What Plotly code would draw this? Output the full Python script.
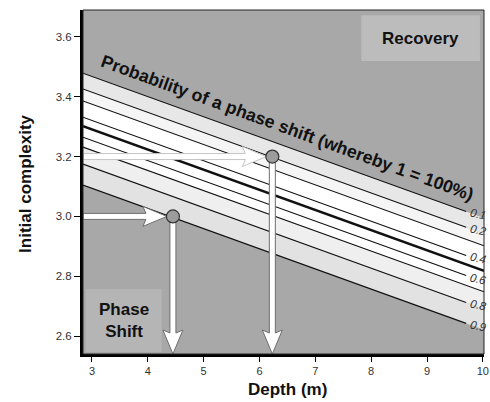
import plotly.graph_objects as go

# probability contour lines: complexity at 3 m depth, common slope per metre
levels = [0.1, 0.2, 0.3, 0.4, 0.5, 0.6, 0.7, 0.8, 0.9]
complexity_at_3m = [3.468, 3.415, 3.375, 3.321, 3.291, 3.254, 3.221, 3.164, 3.094]
slope = -0.0674
labelled = [0.1, 0.2, 0.4, 0.6, 0.8, 0.9]

# example readings
point_depth = [4.45, 6.23]
point_complexity = [3.0, 3.2]

depth_ticks = [3, 4, 5, 6, 7, 8, 9, 10]
complexity_ticks = [2.6, 2.8, 3.0, 3.2, 3.4, 3.6]

x_range = [2.84, 10.02]
y_range = [2.54, 3.69]

W, H = 490, 402
M = dict(l=83, r=6, t=10, b=48)
kx = (x_range[1] - x_range[0]) / (W - M["l"] - M["r"])   # data per pixel
ky = (y_range[1] - y_range[0]) / (H - M["t"] - M["b"])

FONT = "Liberation Sans, Arial, sans-serif"


def line_y(i, x):
    return complexity_at_3m[i] + slope * (x - 3)


fig = go.Figure()

# band fills between neighbouring contours
band_colors = ["#e7e7e7", "#f5f5f5", "#ffffff", "#ffffff",
               "#ffffff", "#ffffff", "#efefef", "#e2e2e2"]
x0, x1 = x_range
for i in range(len(levels) - 1):
    xs = [x0, x1, x1, x0, x0]
    ys = [line_y(i, x0), line_y(i, x1), line_y(i + 1, x1), line_y(i + 1, x0), line_y(i, x0)]
    fig.add_trace(go.Scatter(x=xs, y=ys, mode="lines", fill="toself",
                             fillcolor=band_colors[i], line=dict(width=0),
                             hoverinfo="skip", showlegend=False))

# contour lines
line_end = 9.70
for i, lv in enumerate(levels):
    xe = line_end if lv in labelled else x1
    width = 2.6 if lv == 0.5 else 1.1
    fig.add_trace(go.Scatter(x=[x0, xe], y=[line_y(i, x0), line_y(i, xe)], mode="lines",
                             line=dict(color="#111111", width=width),
                             hoverinfo="skip", showlegend=False))


def arrow(tip_x, tip_y, start, direction, outline):
    hw, HW, hl = 3, 10, 21
    if direction == "right":
        xs = [start, tip_x - hl * kx, tip_x - (hl + 3) * kx, tip_x,
              tip_x - (hl + 3) * kx, tip_x - hl * kx, start, start]
        ys = [tip_y + hw * ky, tip_y + hw * ky, tip_y + HW * ky, tip_y,
              tip_y - HW * ky, tip_y - hw * ky, tip_y - hw * ky, tip_y + hw * ky]
    else:
        ys = [start, tip_y + hl * ky, tip_y + (hl + 3) * ky, tip_y,
              tip_y + (hl + 3) * ky, tip_y + hl * ky, start, start]
        xs = [tip_x - hw * kx, tip_x - hw * kx, tip_x - HW * kx, tip_x,
              tip_x + HW * kx, tip_x + hw * kx, tip_x + hw * kx, tip_x - hw * kx]
    fig.add_trace(go.Scatter(x=xs, y=ys, mode="lines", fill="toself", fillcolor="white",
                             line=dict(color=outline, width=1),
                             hoverinfo="skip", showlegend=False))


outlines = ["#6e6e6e", "#c4c4c4"]
for px, py, oc in zip(point_depth, point_complexity, outlines):
    arrow(px - 6 * kx, py, x0, "right", oc)
    arrow(px, y_range[0], py, "down", "#6e6e6e")

fig.add_trace(go.Scatter(x=point_depth, y=point_complexity, mode="markers",
                         marker=dict(size=13, color="#9c9c9c",
                                     line=dict(color="#333333", width=1.2)),
                         hoverinfo="skip", showlegend=False))

annotations = []
for i, lv in enumerate(levels):
    if lv in labelled:
        annotations.append(dict(x=line_end, y=line_y(i, line_end), xref="x", yref="y",
                                text=f"<i>{lv}</i>", showarrow=False, xanchor="left",
                                yanchor="middle", xshift=0, yshift=-3, textangle=12,
                                font=dict(family=FONT, size=11.5, color="#333333")))


def label(x, y, text, angle=0, **kw):
    annotations.append(dict(x=x, y=y, text=text, showarrow=False, textangle=angle,
                            xanchor="center", yanchor="middle",
                            font=dict(family=FONT, size=17, color="#111111", weight="bold"),
                            **kw))


label(6.5, line_y(0, 6.5), "Probability of a phase shift (whereby 1 = 100%)", 20,
      xref="x", yref="y", yshift=19)
annotations[-1]["font"]["size"] = 17.7
label(0.842, 0.918, "Recovery", xref="paper", yref="paper")
label(0.102, 0.098, "Phase<br>Shift", xref="paper", yref="paper")
label(-0.145, 0.494, "Initial complexity", -90, xref="paper", yref="paper")
label(0.51, -0.102, "Depth (m)", xref="paper", yref="paper")

shapes = [
    dict(type="rect", xref="paper", yref="paper", x0=0.694, x1=0.990, y0=0.852, y1=0.985,
         fillcolor="#bcbcbc", line=dict(width=0), layer="below"),
    dict(type="rect", xref="paper", yref="paper", x0=0.007, x1=0.196, y0=0.006, y1=0.189,
         fillcolor="#b5b5b5", line=dict(width=0), layer="below"),
    dict(type="rect", xref="paper", yref="paper", x0=0, x1=1, y0=0, y1=1,
         line=dict(color="#222222", width=1), layer="above"),
]

fig.update_layout(
    width=W, height=H, margin=M,
    paper_bgcolor="white", plot_bgcolor="#a8a8a8",
    annotations=annotations, shapes=shapes,
    xaxis=dict(range=x_range, tickvals=depth_ticks, showgrid=False, zeroline=False,
               showline=True, linecolor="black", linewidth=3, ticks="outside",
               ticklen=5, tickcolor="black", automargin=False,
               tickfont=dict(family=FONT, size=11, color="#333333")),
    yaxis=dict(range=y_range, tickvals=complexity_ticks, tickformat=".1f", showgrid=False,
               zeroline=False, showline=True, linecolor="black", linewidth=3,
               ticks="outside", ticklen=6, tickcolor="black", automargin=False,
               tickfont=dict(family=FONT, size=11.5, color="#333333")),
)

# the page's default body margin would push the figure off the window
fig.write_html("out.html", config={"displayModeBar": False},
               post_script="document.body.style.margin='0';")
